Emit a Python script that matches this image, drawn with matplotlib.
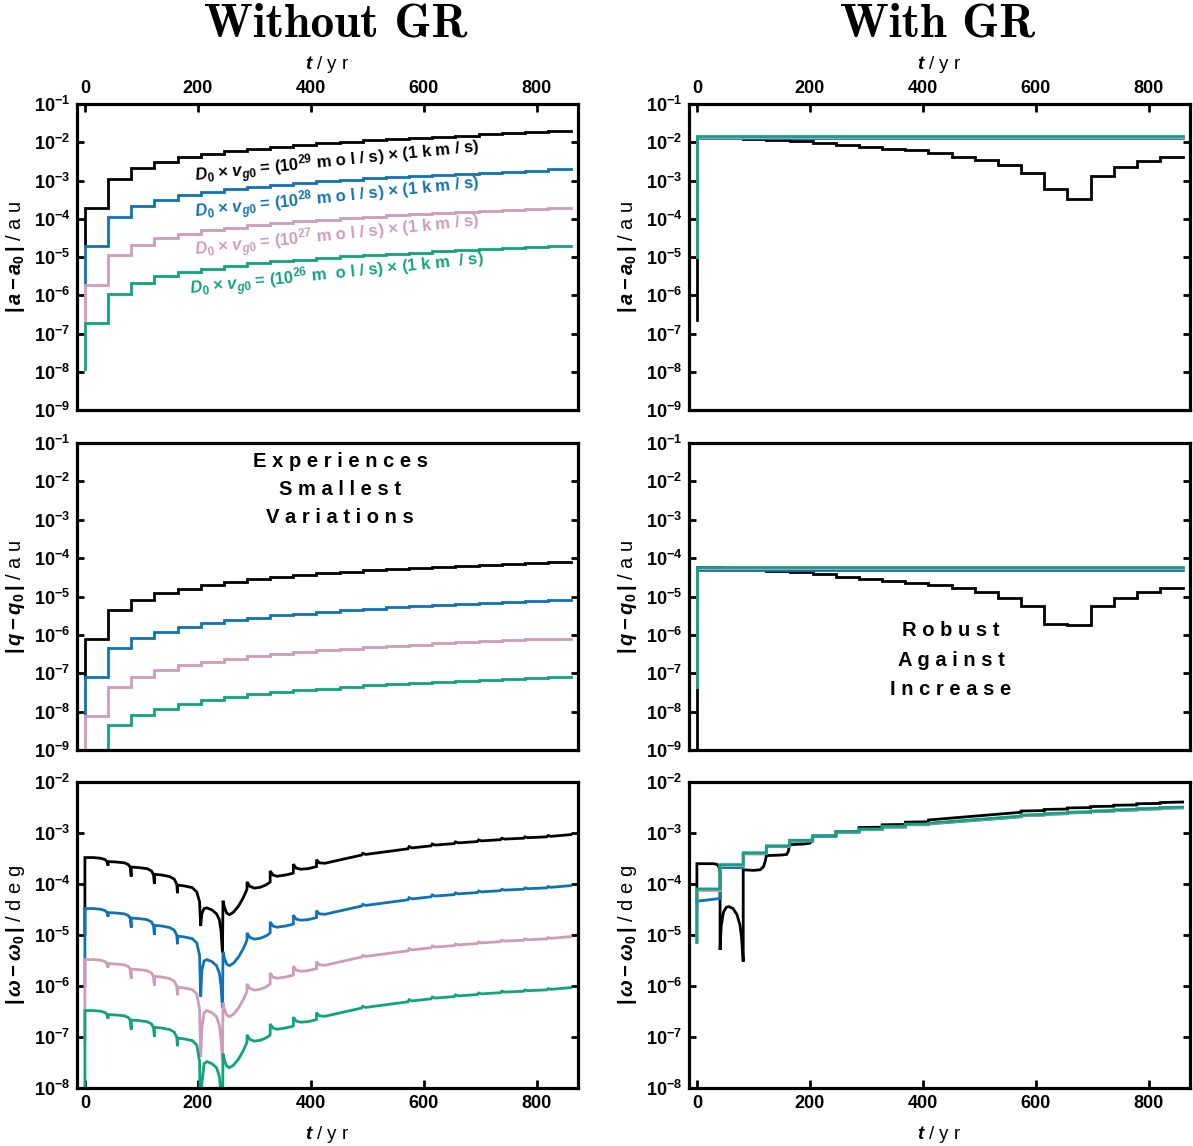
"""Orbital-element drift with and without GR for four dust production rates.

Six log-scale panels: |a - a0|, |q - q0| and |omega - omega0| against time,
left column without general relativity, right column with it.
"""

import matplotlib

matplotlib.use("Agg")
import matplotlib.pyplot as plt

plt.rcParams.update({
    "font.family": "Liberation Sans",
    "font.weight": "bold",
    "mathtext.fontset": "custom",
    "mathtext.rm": "Liberation Sans:bold",
    "mathtext.bf": "Liberation Sans:bold",
    "mathtext.sf": "Liberation Sans:bold",
    "mathtext.it": "Liberation Sans:italic:bold",
})

COLORS = ["#000000", "#0f72b6", "#cf9bbb", "#10a37f"]

# step times (first entry repeated: start value, then the first plateau)
T_STEP = [0, 0, 41, 82, 123, 164, 205, 246, 287, 328, 369, 410, 451, 492,
          533, 574, 615, 656, 697, 738, 779, 820, 860]

# |a - a0| / au, without GR
A_NOGR_29 = [2e-5, 1.9e-4, 1.1e-3, 2.1e-3, 3.1e-3, 4.1e-3, 5.0e-3, 5.9e-3, 6.8e-3,
             7.7e-3, 8.6e-3, 9.5e-3, 1.04e-2, 1.13e-2, 1.22e-2, 1.31e-2, 1.4e-2,
             1.5e-2, 1.6e-2, 1.7e-2, 1.8e-2, 1.95e-2, 1.95e-2]
A_NOGR_28 = [2e-6, 1.9e-5, 1.1e-4, 2.1e-4, 3.1e-4, 4.1e-4, 5.0e-4, 5.9e-4, 6.8e-4,
             7.7e-4, 8.6e-4, 9.5e-4, 1.04e-3, 1.13e-3, 1.22e-3, 1.31e-3, 1.4e-3,
             1.5e-3, 1.6e-3, 1.7e-3, 1.8e-3, 1.95e-3, 1.95e-3]
A_NOGR_27 = [2e-7, 1.9e-6, 1.1e-5, 2.1e-5, 3.1e-5, 4.1e-5, 5.0e-5, 5.9e-5, 6.8e-5,
             7.7e-5, 8.6e-5, 9.5e-5, 1.04e-4, 1.13e-4, 1.22e-4, 1.31e-4, 1.4e-4,
             1.5e-4, 1.6e-4, 1.7e-4, 1.8e-4, 1.95e-4, 1.95e-4]
A_NOGR_26 = [1.2e-8, 1.9e-7, 1.1e-6, 2.1e-6, 3.1e-6, 4.1e-6, 5.0e-6, 5.9e-6, 6.8e-6,
             7.7e-6, 8.6e-6, 9.5e-6, 1.04e-5, 1.13e-5, 1.22e-5, 1.31e-5, 1.4e-5,
             1.5e-5, 1.6e-5, 1.7e-5, 1.8e-5, 1.95e-5, 1.95e-5]

# |q - q0| / au, without GR
Q_NOGR_29 = [8e-8, 7.9e-7, 4.5e-6, 8.1e-6, 1.2e-5, 1.6e-5, 2.0e-5, 2.4e-5, 2.8e-5,
             3.2e-5, 3.6e-5, 4.0e-5, 4.4e-5, 4.8e-5, 5.2e-5, 5.6e-5, 6.0e-5,
             6.4e-5, 6.8e-5, 7.2e-5, 7.6e-5, 8.0e-5, 8.0e-5]
Q_NOGR_28 = [8e-9, 7.9e-8, 4.5e-7, 8.1e-7, 1.2e-6, 1.6e-6, 2.0e-6, 2.4e-6, 2.8e-6,
             3.2e-6, 3.6e-6, 4.0e-6, 4.4e-6, 4.8e-6, 5.2e-6, 5.6e-6, 6.0e-6,
             6.4e-6, 6.8e-6, 7.2e-6, 7.6e-6, 8.0e-6, 8.0e-6]
Q_NOGR_27 = [1e-10, 7.9e-9, 4.5e-8, 8.1e-8, 1.2e-7, 1.6e-7, 2.0e-7, 2.4e-7, 2.8e-7,
             3.2e-7, 3.6e-7, 4.0e-7, 4.4e-7, 4.8e-7, 5.2e-7, 5.6e-7, 6.0e-7,
             6.4e-7, 6.8e-7, 7.2e-7, 7.6e-7, 8.0e-7, 8.0e-7]
Q_NOGR_26 = [1e-11, 7.9e-10, 4.5e-9, 8.1e-9, 1.2e-8, 1.6e-8, 2.0e-8, 2.4e-8, 2.8e-8,
             3.2e-8, 3.6e-8, 4.0e-8, 4.4e-8, 4.8e-8, 5.2e-8, 5.6e-8, 6.0e-8,
             6.4e-8, 6.8e-8, 7.2e-8, 7.6e-8, 8.0e-8, 8.0e-8]

# |a - a0| / au, with GR
A_GR_29 = [2.2e-7, 1.4e-2, 1.35e-2, 1.25e-2, 1.17e-2, 1.06e-2, 9.6e-3, 8.5e-3, 7.7e-3,
           6.8e-3, 6.1e-3, 5.3e-3, 4.2e-3, 3.4e-3, 2.5e-3, 1.55e-3, 6.1e-4, 3.2e-4,
           1.3e-3, 2.3e-3, 3.2e-3, 4.0e-3, 4.0e-3]
A_GR_28 = [1e-5, 1.27e-2, 1.27e-2, 1.27e-2, 1.27e-2, 1.27e-2, 1.27e-2, 1.27e-2, 1.27e-2,
           1.27e-2, 1.27e-2, 1.27e-2, 1.27e-2, 1.27e-2, 1.27e-2, 1.27e-2, 1.27e-2,
           1.27e-2, 1.27e-2, 1.27e-2, 1.27e-2, 1.27e-2, 1.27e-2]
A_GR_27 = [1e-5, 1.35e-2, 1.35e-2, 1.35e-2, 1.35e-2, 1.35e-2, 1.35e-2, 1.35e-2, 1.35e-2,
           1.35e-2, 1.35e-2, 1.35e-2, 1.35e-2, 1.35e-2, 1.35e-2, 1.35e-2, 1.35e-2,
           1.35e-2, 1.35e-2, 1.35e-2, 1.35e-2, 1.35e-2, 1.35e-2]
A_GR_26 = [1e-5, 1.42e-2, 1.42e-2, 1.42e-2, 1.42e-2, 1.42e-2, 1.42e-2, 1.42e-2, 1.42e-2,
           1.42e-2, 1.42e-2, 1.42e-2, 1.42e-2, 1.42e-2, 1.42e-2, 1.42e-2, 1.42e-2,
           1.42e-2, 1.42e-2, 1.42e-2, 1.42e-2, 1.42e-2, 1.42e-2]

# |q - q0| / au, with GR
Q_GR_29 = [1e-10, 5.8e-5, 5.3e-5, 5.1e-5, 4.7e-5, 4.26e-5, 3.78e-5, 3.29e-5, 2.92e-5,
           2.6e-5, 2.3e-5, 1.96e-5, 1.67e-5, 1.32e-5, 9.4e-6, 5.6e-6, 1.9e-6, 1.8e-6,
           5.6e-6, 9.4e-6, 1.32e-5, 1.67e-5, 1.67e-5]
Q_GR_28 = [4.5e-8, 5.0e-5, 5.0e-5, 5.0e-5, 5.0e-5, 5.0e-5, 5.0e-5, 5.0e-5, 5.0e-5,
           5.0e-5, 5.0e-5, 5.0e-5, 5.0e-5, 5.0e-5, 5.0e-5, 5.0e-5, 5.0e-5, 5.0e-5,
           5.0e-5, 5.0e-5, 5.0e-5, 5.0e-5, 5.0e-5]
Q_GR_27 = [4.5e-8, 5.5e-5, 5.5e-5, 5.5e-5, 5.5e-5, 5.5e-5, 5.5e-5, 5.5e-5, 5.5e-5,
           5.5e-5, 5.5e-5, 5.5e-5, 5.5e-5, 5.5e-5, 5.5e-5, 5.5e-5, 5.5e-5, 5.5e-5,
           5.5e-5, 5.5e-5, 5.5e-5, 5.5e-5, 5.5e-5]
Q_GR_26 = [4.5e-8, 5.9e-5, 5.9e-5, 5.9e-5, 5.9e-5, 5.9e-5, 5.9e-5, 5.9e-5, 5.9e-5,
           5.9e-5, 5.9e-5, 5.9e-5, 5.9e-5, 5.9e-5, 5.9e-5, 5.9e-5, 5.9e-5, 5.9e-5,
           5.9e-5, 5.9e-5, 5.9e-5, 5.9e-5, 5.9e-5]

# |omega - omega0| / deg, without GR (shared sample times)
T_W_NOGR = [0, 0, 15, 28, 36, 39.5, 41, 41, 55, 70, 77, 80.5, 82, 82, 95, 110, 118,
            121.5, 123, 123, 136, 150, 158, 162.5, 164, 164, 175, 190, 198, 203, 205,
            207, 211, 216, 225, 233, 238, 241, 243.5, 244.5, 247, 251, 256, 263, 272,
            280, 285, 287, 287, 292, 300, 310, 320, 326, 328, 328, 333, 340, 355, 366,
            369, 369, 374, 382, 395, 407, 410, 410, 415, 425, 490, 492, 497, 572, 574,
            579, 613, 615, 620, 654, 656, 661, 695, 697, 702, 736, 738, 743, 777, 779,
            784, 818, 820, 825, 860]
W_NOGR_29 = [1e-5, 3.3e-4, 3.3e-4, 3.2e-4, 3.0e-4, 2.7e-4, 2.3e-4, 2.75e-4, 2.7e-4,
             2.6e-4, 2.4e-4, 2.1e-4, 1.4e-4, 2.15e-4, 2.1e-4, 2.0e-4, 1.8e-4, 1.5e-4,
             1.0e-4, 1.55e-4, 1.5e-4, 1.4e-4, 1.25e-4, 1.0e-4, 6.6e-5, 9.5e-5, 9.2e-5,
             8.5e-5, 7.0e-5, 4.5e-5, 1.5e-5, 2.6e-5, 3.3e-5, 3.4e-5, 3.1e-5, 2.6e-5,
             2.0e-5, 1.2e-5, 4.5e-6, 4.7e-5, 3.5e-5, 2.7e-5, 2.5e-5, 2.8e-5, 3.7e-5,
             5.3e-5, 7.0e-5, 8.0e-5, 1.1e-4, 9.0e-5, 8.3e-5, 8.6e-5, 9.5e-5, 1.05e-4,
             1.1e-4, 1.8e-4, 1.5e-4, 1.42e-4, 1.5e-4, 1.6e-4, 1.65e-4, 2.45e-4, 2.05e-4,
             1.95e-4, 2.0e-4, 2.15e-4, 2.2e-4, 3.0e-4, 2.6e-4, 2.55e-4, 3.7e-4, 4.0e-4,
             3.8e-4, 4.9e-4, 5.4e-4, 5.1e-4, 5.6e-4, 6.1e-4, 5.8e-4, 6.2e-4, 6.7e-4,
             6.4e-4, 6.8e-4, 7.3e-4, 7.0e-4, 7.4e-4, 7.9e-4, 7.6e-4, 7.9e-4, 8.4e-4,
             8.1e-4, 8.4e-4, 8.9e-4, 8.6e-4, 9.3e-4]
W_NOGR_28 = [1.1e-6, 3.3e-5, 3.3e-5, 3.2e-5, 3.0e-5, 2.7e-5, 2.3e-5, 2.75e-5, 2.7e-5,
             2.6e-5, 2.4e-5, 2.1e-5, 1.4e-5, 2.15e-5, 2.1e-5, 2.0e-5, 1.8e-5, 1.5e-5,
             1.0e-5, 1.55e-5, 1.5e-5, 1.4e-5, 1.25e-5, 1.0e-5, 6.6e-6, 9.5e-6, 9.2e-6,
             8.5e-6, 7.0e-6, 4.0e-6, 6.2e-7, 2.0e-6, 3.1e-6, 3.3e-6, 3.0e-6, 2.5e-6,
             1.8e-6, 1.0e-6, 3.7e-7, 4.7e-6, 3.5e-6, 2.7e-6, 2.5e-6, 2.8e-6, 3.7e-6,
             5.3e-6, 7.0e-6, 8.0e-6, 1.1e-5, 9.0e-6, 8.3e-6, 8.6e-6, 9.5e-6, 1.05e-5,
             1.1e-5, 1.8e-5, 1.5e-5, 1.42e-5, 1.5e-5, 1.6e-5, 1.65e-5, 2.45e-5, 2.05e-5,
             1.95e-5, 2.0e-5, 2.15e-5, 2.2e-5, 3.0e-5, 2.6e-5, 2.55e-5, 3.7e-5, 4.0e-5,
             3.8e-5, 4.9e-5, 5.4e-5, 5.1e-5, 5.6e-5, 6.1e-5, 5.8e-5, 6.2e-5, 6.7e-5,
             6.4e-5, 6.8e-5, 7.3e-5, 7.0e-5, 7.4e-5, 7.9e-5, 7.6e-5, 7.9e-5, 8.4e-5,
             8.1e-5, 8.4e-5, 8.9e-5, 8.6e-5, 9.3e-5]
W_NOGR_27 = [8.7e-8, 3.3e-6, 3.3e-6, 3.2e-6, 3.0e-6, 2.7e-6, 2.3e-6, 2.75e-6, 2.7e-6,
             2.6e-6, 2.4e-6, 2.1e-6, 1.4e-6, 2.15e-6, 2.1e-6, 2.0e-6, 1.8e-6, 1.5e-6,
             1.0e-6, 1.55e-6, 1.5e-6, 1.4e-6, 1.25e-6, 1.0e-6, 6.6e-7, 9.5e-7, 9.2e-7,
             8.5e-7, 7.0e-7, 3.5e-7, 4.1e-8, 1.5e-7, 3.0e-7, 3.3e-7, 3.0e-7, 2.5e-7,
             1.7e-7, 9.0e-8, 3.5e-8, 4.7e-7, 3.5e-7, 2.7e-7, 2.5e-7, 2.8e-7, 3.7e-7,
             5.3e-7, 7.0e-7, 8.0e-7, 1.1e-6, 9.0e-7, 8.3e-7, 8.6e-7, 9.5e-7, 1.05e-6,
             1.1e-6, 1.8e-6, 1.5e-6, 1.42e-6, 1.5e-6, 1.6e-6, 1.65e-6, 2.45e-6, 2.05e-6,
             1.95e-6, 2.0e-6, 2.15e-6, 2.2e-6, 3.0e-6, 2.6e-6, 2.55e-6, 3.7e-6, 4.0e-6,
             3.8e-6, 4.9e-6, 5.4e-6, 5.1e-6, 5.6e-6, 6.1e-6, 5.8e-6, 6.2e-6, 6.7e-6,
             6.4e-6, 6.8e-6, 7.3e-6, 7.0e-6, 7.4e-6, 7.9e-6, 7.6e-6, 7.9e-6, 8.4e-6,
             8.1e-6, 8.4e-6, 8.9e-6, 8.6e-6, 9.3e-6]
W_NOGR_26 = [1e-9, 3.3e-7, 3.3e-7, 3.2e-7, 3.0e-7, 2.7e-7, 2.3e-7, 2.75e-7, 2.7e-7,
             2.6e-7, 2.4e-7, 2.1e-7, 1.4e-7, 2.15e-7, 2.1e-7, 2.0e-7, 1.8e-7, 1.5e-7,
             1.0e-7, 1.55e-7, 1.5e-7, 1.4e-7, 1.25e-7, 1.0e-7, 6.6e-8, 9.5e-8, 9.2e-8,
             8.5e-8, 7.0e-8, 3.3e-8, 1e-9, 1.2e-8, 3.0e-8, 3.3e-8, 3.0e-8, 2.5e-8,
             1.7e-8, 8.0e-9, 1e-9, 4.7e-8, 3.5e-8, 2.7e-8, 2.5e-8, 2.8e-8, 3.7e-8,
             5.3e-8, 7.0e-8, 8.0e-8, 1.1e-7, 9.0e-8, 8.3e-8, 8.6e-8, 9.5e-8, 1.05e-7,
             1.1e-7, 1.8e-7, 1.5e-7, 1.42e-7, 1.5e-7, 1.6e-7, 1.65e-7, 2.45e-7, 2.05e-7,
             1.95e-7, 2.0e-7, 2.15e-7, 2.2e-7, 3.0e-7, 2.6e-7, 2.55e-7, 3.7e-7, 4.0e-7,
             3.8e-7, 4.9e-7, 5.4e-7, 5.1e-7, 5.6e-7, 6.1e-7, 5.8e-7, 6.2e-7, 6.7e-7,
             6.4e-7, 6.8e-7, 7.3e-7, 7.0e-7, 7.4e-7, 7.9e-7, 7.6e-7, 7.9e-7, 8.4e-7,
             8.1e-7, 8.4e-7, 8.9e-7, 8.6e-7, 9.3e-7]

# |omega - omega0| / deg, with GR
T_W_GR_29 = [0, 0, 30, 36, 39, 41, 41, 43, 47, 52, 57, 64, 71, 76, 79, 82, 82, 100,
             112, 118, 121, 123, 150, 159, 162, 164, 190, 200, 203, 205, 246, 246,
             287, 287, 328, 328, 369, 369, 410, 410, 574, 574, 615, 615, 656, 656,
             697, 697, 738, 738, 779, 779, 820, 820, 860]
W_GR_29 = [4.0e-5, 2.5e-4, 2.5e-4, 2.4e-4, 2.15e-4, 1.7e-4, 5.1e-6, 1.5e-5, 2.8e-5,
           3.5e-5, 3.6e-5, 3.3e-5, 2.5e-5, 1.6e-5, 9.0e-6, 3.0e-6, 1.9e-4, 1.85e-4,
           1.9e-4, 2.2e-4, 2.8e-4, 3.6e-4, 3.7e-4, 3.8e-4, 4.4e-4, 5.9e-4, 6.1e-4,
           6.3e-4, 6.9e-4, 8.5e-4, 8.7e-4, 1.05e-3, 1.08e-3, 1.28e-3, 1.3e-3, 1.45e-3,
           1.47e-3, 1.63e-3, 1.66e-3, 1.8e-3, 2.55e-3, 2.7e-3, 2.75e-3, 2.9e-3, 2.95e-3,
           3.1e-3, 3.15e-3, 3.3e-3, 3.35e-3, 3.5e-3, 3.55e-3, 3.75e-3, 3.8e-3, 3.95e-3,
           4.05e-3]
T_W_GR = [0, 0, 41, 41, 82, 82, 123, 123, 164, 164, 205, 205, 246, 246, 287, 287,
          328, 328, 369, 369, 410, 410, 574, 574, 615, 615, 656, 656, 697, 697, 738,
          738, 779, 779, 820, 820, 860]
W_GR_28 = [7.2e-6, 4.6e-5, 5.2e-5, 2.1e-4, 2.1e-4, 3.9e-4, 3.9e-4, 5.4e-4, 5.4e-4,
           6.9e-4, 6.9e-4, 8.6e-4, 8.6e-4, 1.03e-3, 1.03e-3, 1.16e-3, 1.16e-3, 1.3e-3,
           1.3e-3, 1.45e-3, 1.45e-3, 1.5e-3, 2.07e-3, 2.17e-3, 2.24e-3, 2.31e-3,
           2.38e-3, 2.46e-3, 2.53e-3, 2.6e-3, 2.67e-3, 2.75e-3, 2.82e-3, 2.9e-3,
           2.96e-3, 3.04e-3, 3.1e-3]
W_GR_27 = [7.2e-6, 7.4e-5, 7.4e-5, 2.3e-4, 2.3e-4, 4.0e-4, 4.0e-4, 5.5e-4, 5.5e-4,
           7.05e-4, 7.05e-4, 8.7e-4, 8.7e-4, 1.05e-3, 1.05e-3, 1.18e-3, 1.18e-3,
           1.32e-3, 1.32e-3, 1.47e-3, 1.47e-3, 1.53e-3, 2.11e-3, 2.2e-3, 2.27e-3,
           2.35e-3, 2.42e-3, 2.5e-3, 2.57e-3, 2.65e-3, 2.71e-3, 2.79e-3, 2.86e-3,
           2.94e-3, 3.01e-3, 3.09e-3, 3.16e-3]
W_GR_26 = [7.2e-6, 8.0e-5, 8.0e-5, 2.4e-4, 2.4e-4, 4.1e-4, 4.1e-4, 5.6e-4, 5.6e-4,
           7.2e-4, 7.2e-4, 8.9e-4, 8.9e-4, 1.07e-3, 1.07e-3, 1.2e-3, 1.2e-3, 1.35e-3,
           1.35e-3, 1.5e-3, 1.5e-3, 1.56e-3, 2.15e-3, 2.25e-3, 2.32e-3, 2.4e-3,
           2.47e-3, 2.55e-3, 2.62e-3, 2.7e-3, 2.77e-3, 2.85e-3, 2.92e-3, 3.0e-3,
           3.07e-3, 3.15e-3, 3.22e-3]

X_TICKS = [0, 200, 400, 600, 800]
Y_TICKS_AQ = [1e-9, 1e-8, 1e-7, 1e-6, 1e-5, 1e-4, 1e-3, 1e-2, 1e-1]
Y_LABELS_AQ = [r"$10^{-9}$", r"$10^{-8}$", r"$10^{-7}$", r"$10^{-6}$", r"$10^{-5}$",
               r"$10^{-4}$", r"$10^{-3}$", r"$10^{-2}$", r"$10^{-1}$"]
Y_TICKS_W = [1e-8, 1e-7, 1e-6, 1e-5, 1e-4, 1e-3, 1e-2]
Y_LABELS_W = [r"$10^{-8}$", r"$10^{-7}$", r"$10^{-6}$", r"$10^{-5}$", r"$10^{-4}$",
              r"$10^{-3}$", r"$10^{-2}$"]

YLABELS = [r"$\mathbf{|}\,a - a_0\,\mathbf{|}$ / a u",
           r"$\mathbf{|}\,q - q_0\,\mathbf{|}$ / a u",
           r"$\mathbf{|}\,\omega - \omega_0\,\mathbf{|}$ / d e g"]
XLABEL = r"$t$ / y r"

W, H = 1193, 1146
fig = plt.figure(figsize=(W / 100, H / 100), dpi=100)


def make_ax(left, top, right, bottom):
    return fig.add_axes([left / W, 1 - bottom / H, (right - left) / W, (bottom - top) / H])


rows_px = [(104, 410), (443, 750), (782, 1088)]
cols_px = [(77, 578), (689, 1190)]
axes = [[make_ax(c[0], r[0], c[1], r[1]) for c in cols_px] for r in rows_px]


def style(ax, row):
    ax.set_yscale("log")
    ax.set_xlim(-14, 873)
    if row < 2:
        ax.set_ylim(1e-9, 1e-1)
        ax.set_yticks(Y_TICKS_AQ, Y_LABELS_AQ)
    else:
        ax.set_ylim(1e-8, 1e-2)
        ax.set_yticks(Y_TICKS_W, Y_LABELS_W)
    ax.minorticks_off()
    ax.set_xticks(X_TICKS)
    for s in ax.spines.values():
        s.set_linewidth(2.3)
    ax.tick_params(axis="y", which="major", direction="in", left=True, right=True,
                   length=5, width=2, labelsize=13, pad=5)
    if row == 0:
        ax.tick_params(axis="x", direction="in", top=True, bottom=False, labeltop=True,
                       labelbottom=False, length=6, width=2, labelsize=13, pad=5)
        ax.xaxis.set_label_position("top")
        ax.set_xlabel(XLABEL, fontsize=13.5, labelpad=8)
    elif row == 1:
        ax.tick_params(axis="x", top=False, bottom=False, labeltop=False,
                       labelbottom=False)
    else:
        ax.tick_params(axis="x", direction="in", top=False, bottom=True,
                       length=6, width=2, labelsize=13, pad=5)
        ax.set_xlabel(XLABEL, fontsize=13.5, labelpad=9)
    ax.set_ylabel(YLABELS[row], fontsize=14.5, labelpad=5)


lw = 2.0
panels = [
    [(T_STEP, [A_NOGR_29, A_NOGR_28, A_NOGR_27, A_NOGR_26], True),
     (T_STEP, [A_GR_29, A_GR_28, A_GR_27, A_GR_26], True)],
    [(T_STEP, [Q_NOGR_29, Q_NOGR_28, Q_NOGR_27, Q_NOGR_26], True),
     (T_STEP, [Q_GR_29, Q_GR_28, Q_GR_27, Q_GR_26], True)],
    [(T_W_NOGR, [W_NOGR_29, W_NOGR_28, W_NOGR_27, W_NOGR_26], False),
     (None, [W_GR_29, W_GR_28, W_GR_27, W_GR_26], False)],
]

for r in range(3):
    for c in range(2):
        ax = axes[r][c]
        t, series, steps = panels[r][c]
        for i, vals in enumerate(series):
            tt = t
            if tt is None:
                tt = T_W_GR_29 if i == 0 else T_W_GR
            ax.plot(tt, vals, color=COLORS[i], lw=lw,
                    drawstyle="steps-post" if steps else "default",
                    solid_joinstyle="miter")
        style(ax, r)

# curve labels in the top-left panel
label_y = [3.0e-3, 3.4e-4, 3.5e-5, 3.4e-6]
label_txt = [
    r"$D_0$ × $v_{g0}$ = (10$^{29}$ m o l / s) × (1 k m / s)",
    r"$D_0$ × $v_{g0}$ = (10$^{28}$ m o l / s) × (1 k m / s)",
    r"$D_0$ × $v_{g0}$ = (10$^{27}$ m o l / s) × (1 k m / s)",
    r"$D_0$ × $v_{g0}$ = (10$^{26}$ m  o l / s) × (1 k m  / s)",
]
for i in range(4):
    axes[0][0].text(446, label_y[i], label_txt[i], color=COLORS[i], fontsize=12,
                    rotation=5.8, rotation_mode="anchor", ha="center", va="center")

axes[1][0].text(0.525, 0.847, "E x p e r i e n c e s\nS m a l l e s t\nV a r i a t i o n s",
                transform=axes[1][0].transAxes, ha="center", va="center",
                fontsize=14.5, linespacing=1.6)
axes[1][1].text(0.523, 0.293, "R o b u s t\nA g a i n s t\nI n c r e a s e",
                transform=axes[1][1].transAxes, ha="center", va="center",
                fontsize=14.5, linespacing=1.72)

fig.text(0.281, 0.979, "Without GR", fontfamily="cmb10", fontsize=34,
         ha="center", va="center")
fig.text(0.786, 0.979, "With GR", fontfamily="cmb10", fontsize=34,
         ha="center", va="center")

fig.savefig("out.png", dpi=100)
